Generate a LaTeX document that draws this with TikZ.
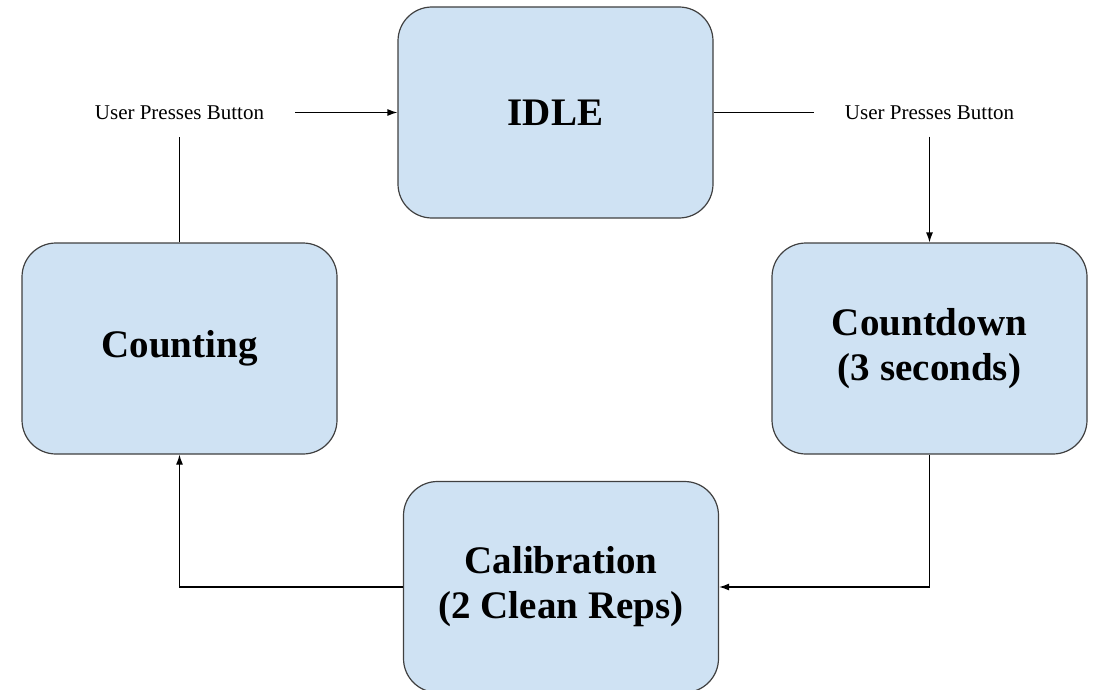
\documentclass[tikz,border=0pt]{standalone}
\usepackage{fontspec}
\setmainfont{Liberation Serif}
\usepackage{tikz}
\usetikzlibrary{arrows.meta}
\definecolor{statefill}{HTML}{CFE2F3}
\definecolor{stateline}{HTML}{404040}

\begin{document}
\begin{tikzpicture}[x=1pt,y=-1pt,
    state/.style={draw=stateline, line width=1.2pt, fill=statefill, rounded corners=34pt,
        minimum width=315pt, minimum height=211pt, align=center,
        font=\fontsize{39}{45}\selectfont\bfseries},
    lbl/.style={inner xsep=31pt, inner ysep=0pt, minimum height=48pt,
        font=\fontsize{21}{25}\selectfont},
    link/.style={line width=1.2pt},
    >={Latex[length=10pt,width=7pt]}]
    \useasboundingbox (0,0) rectangle (1094,690);
    \node[state] (idle) at (555.5,112.5) {IDLE};
    \node[state] (counting) at (179.5,348.5) {Counting};
    \node[state] (countdown) at (929.5,348.5) {Countdown\\(3 seconds)};
    \node[state] (calib) at (561,587) {Calibration\\(2 Clean Reps)};
    \node[lbl] (pressL) at (179.5,112.5) {User Presses Button};
    \node[lbl] (pressR) at (929.5,112.5) {User Presses Button};
    \draw[link] (counting.north) -- (pressL.south);
    \draw[link,->] (pressL.east) -- (idle.west);
    \draw[link] (idle.east) -- (pressR.west);
    \draw[link,->] (pressR.south) -- (countdown.north);
    \draw[link,->] (countdown.south) |- (calib.east);
    \draw[link,->] (calib.west) -| (counting.south);
\end{tikzpicture}
\end{document}
